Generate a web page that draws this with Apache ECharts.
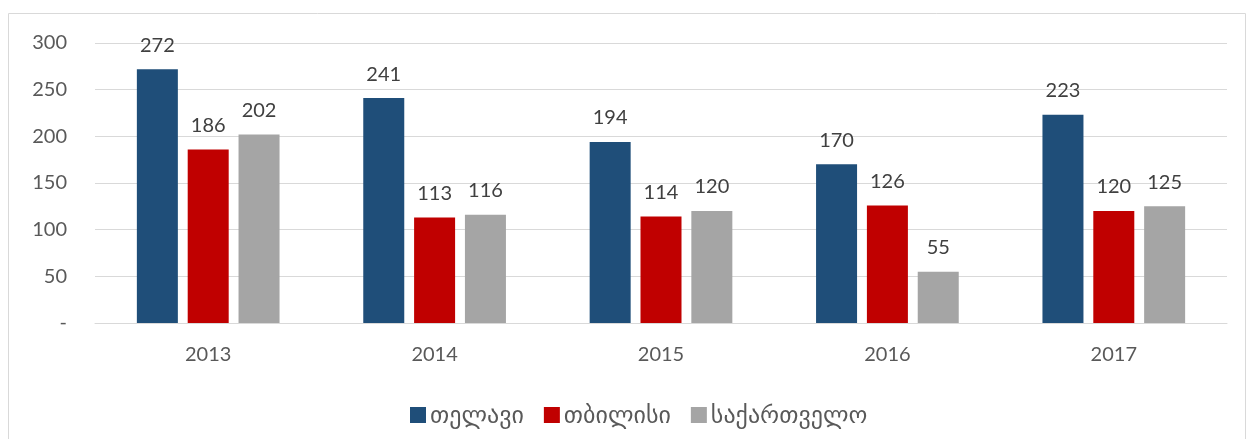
<!DOCTYPE html>
<html>
<head>
<meta charset="utf-8">
<script src="https://cdn.jsdelivr.net/npm/echarts@6/dist/echarts.min.js"></script>
<style>
  html, body { margin: 0; padding: 0; background: #fff; }
  #chart { width: 1247px; height: 439px; }
</style>
</head>
<body>
<div id="chart"></div>
<script>
const years = ['2013', '2014', '2015', '2016', '2017'];
const seriesNames = ['თელავი', 'თბილისი', 'საქართველო'];
const telavi = [272, 241, 194, 170, 223];
const tbilisi = [186, 113, 114, 126, 120];
const georgia = [202, 116, 120, 55, 125];
const colors = ['#1F4E79', '#C00000', '#A5A5A5'];

const font = 'Lato, "DejaVu Sans", "Noto Sans", sans-serif';

const chart = echarts.init(document.getElementById('chart'), null, { renderer: 'canvas' });

function bar(name, data, color) {
  return {
    name: name,
    type: 'bar',
    data: data,
    barWidth: 41,
    barGap: '24%',
    itemStyle: { color: color },
    label: {
      show: true,
      position: 'top',
      distance: 14,
      color: '#404040',
      fontSize: 20,
      fontFamily: font
    }
  };
}

chart.setOption({
  animation: false,
  textStyle: { fontFamily: font },
  graphic: [{
    type: 'rect',
    shape: { x: 8.5, y: 13.5, width: 1237, height: 440 },
    style: { fill: 'none', stroke: '#D9D9D9', lineWidth: 1 },
    silent: true
  }],
  grid: { left: 95, right: 20, top: 43, bottom: 116, containLabel: false },
  legend: {
    bottom: 12,
    left: 410,
    padding: 0,
    itemWidth: 16,
    itemHeight: 16,
    itemGap: 20,
    icon: 'rect',
    textStyle: { color: '#595959', fontSize: 24, fontFamily: font, padding: [0, 0, 0, -1] },
    data: seriesNames
  },
  xAxis: {
    type: 'category',
    data: years,
    axisLine: { lineStyle: { color: '#D9D9D9', width: 1 } },
    axisTick: { show: false },
    axisLabel: { color: '#595959', fontSize: 20, margin: 22, fontFamily: font }
  },
  yAxis: {
    type: 'value',
    min: 0,
    max: 300,
    interval: 50,
    axisLine: { show: false },
    axisTick: { show: false },
    splitLine: { lineStyle: { color: '#D9D9D9', width: 1 } },
    axisLabel: {
      color: '#595959',
      fontSize: 20,
      margin: 28,
      fontFamily: font,
      formatter: v => (v === 0 ? '-' : String(v))
    }
  },
  series: [
    bar(seriesNames[0], telavi, colors[0]),
    bar(seriesNames[1], tbilisi, colors[1]),
    bar(seriesNames[2], georgia, colors[2])
  ]
});
</script>
</body>
</html>
